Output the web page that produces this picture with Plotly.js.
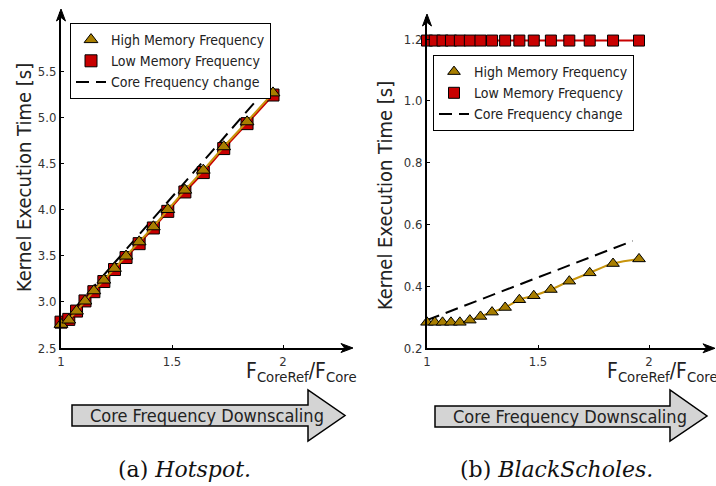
<!DOCTYPE html>
<html><head><meta charset="utf-8">
<script src="https://cdn.plot.ly/plotly-3.0.1.min.js"></script>
<style>html,body{margin:0;padding:0;background:#fff}</style>
</head><body><div id="chart" style="width:716px;height:486px"></div>
<script>
// ---- data ----
const freqRatio = [1.000, 1.035, 1.070, 1.108, 1.148, 1.193, 1.241, 1.293, 1.352, 1.416, 1.481, 1.558, 1.641, 1.733, 1.838, 1.955];
const hotspotHigh = [2.756, 2.803, 2.900, 3.009, 3.120, 3.236, 3.363, 3.496, 3.650, 3.813, 4.000, 4.210, 4.426, 4.680, 4.950, 5.263];
const hotspotLow  = [2.780, 2.810, 2.900, 3.010, 3.110, 3.220, 3.350, 3.480, 3.630, 3.800, 3.980, 4.190, 4.400, 4.660, 4.930, 5.240];
const hotspotCoreX = [1.000, 1.927];
const hotspotCoreY = [2.760, 5.310];
const bsHigh = [0.284, 0.284, 0.284, 0.284, 0.284, 0.291, 0.303, 0.317, 0.332, 0.357, 0.370, 0.390, 0.417, 0.444, 0.474, 0.489];
const bsLow  = [1.195, 1.195, 1.195, 1.195, 1.195, 1.195, 1.195, 1.195, 1.195, 1.195, 1.195, 1.195, 1.195, 1.195, 1.195, 1.195];
const bsCoreX = [1.000, 1.926];
const bsCoreY = [0.291, 0.547];
const xTickVals = [1, 1.5, 2];
const xTickText = ['1', '1.5', '2'];
const hsYTickVals = [2.5, 3.0, 3.5, 4.0, 4.5, 5.0, 5.5];
const hsYTickText = ['2.5', '3.0', '3.5', '4.0', '4.5', '5.0', '5.5'];
const bsYTickVals = [0.2, 0.4, 0.6, 0.8, 1.0, 1.2];
const bsYTickText = ['0.2', '0.4', '0.6', '0.8', '1.0', '1.2'];
const seriesNames = ['High Memory Frequency', 'Low Memory Frequency', 'Core Frequency change'];
const arrowLabel = 'Core Frequency Downscaling';
const yTitle = 'Kernel Execution Time [s]';
const xTitle = 'F<sub>CoreRef</sub>/F<sub>Core</sub>';
const captions = ['(a) <i>Hotspot.</i>', '(b) <i>BlackScholes.</i>'];

// ---- styling helpers ----
const W = 716, H = 486;
const px = x => x / W;
const py = y => 1 - y / H;
const path = pts => pts.map((p, i) => (i ? 'L' : 'M') + px(p[0]).toFixed(5) + ',' + py(p[1]).toFixed(5)).join(' ') + ' Z';
const FONT = '"DejaVu Sans Condensed", "DejaVu Sans", sans-serif';
const SERIF = '"DejaVu Serif", serif';
const GOLD_LINE = '#c8940c', GOLD_FILL = '#a87e00', RED = '#c80000';

function seriesTraces(x, hi, lo, cx, cy, xa, ya, leg, big, smooth) {
  const common = {xaxis: xa, yaxis: ya, legend: leg, cliponaxis: false};
  return [
    Object.assign({x: cx, y: cy, name: seriesNames[2], legendrank: 3,
      mode: 'lines', line: {color: '#000', width: 2, dash: '13px,7px'}}, common),
    Object.assign({x: x, y: lo, showlegend: false, hoverinfo: 'skip',
      mode: 'lines', line: {color: RED, width: 2}}, common),
    Object.assign({x: x, y: lo, name: seriesNames[1], legendrank: 2, mode: 'markers',
      marker: {symbol: 'square', size: big ? 12 : 11, color: RED, line: {color: '#000', width: 1}}}, common),
    Object.assign({x: x, y: hi, showlegend: false, hoverinfo: 'skip',
      mode: 'lines', line: {color: GOLD_LINE, width: 2, shape: smooth ? 'spline' : 'linear'}}, common),
    Object.assign({x: x, y: hi, name: seriesNames[0], legendrank: 1, mode: 'markers',
      marker: {symbol: 'triangle-up', size: big ? 12 : 11, color: GOLD_FILL, line: {color: '#000', width: 1}}}, common)
  ];
}

const data = [].concat(
  seriesTraces(freqRatio, hotspotHigh, hotspotLow, hotspotCoreX, hotspotCoreY, 'x', 'y', 'legend', true, false),
  seriesTraces(freqRatio, bsHigh, bsLow, bsCoreX, bsCoreY, 'x2', 'y2', 'legend2', false, true)
);

const axisBase = {showline: true, linecolor: '#000', linewidth: 2, showgrid: false, zeroline: false,
  ticks: 'inside', ticklen: 3, tickwidth: 1, tickcolor: '#000',
  tickfont: {family: FONT, size: 13, color: '#333'}, fixedrange: true};

const legendBase = {xanchor: 'left', yanchor: 'top', bgcolor: '#fff', bordercolor: '#000', borderwidth: 1,
  font: {family: FONT, size: 14, color: '#222'}, traceorder: 'normal', itemwidth: 30, tracegroupgap: 0};

const shapes = [
  // axis arrowheads
  {type: 'path', xref: 'paper', yref: 'paper', path: path([[61, 9], [56.5, 21], [61, 17.5], [65.5, 21]]), fillcolor: '#000', line: {color: '#000', width: 1}},
  {type: 'path', xref: 'paper', yref: 'paper', path: path([[353, 348], [341, 343.5], [344.5, 348], [341, 352.5]]), fillcolor: '#000', line: {color: '#000', width: 1}},
  {type: 'path', xref: 'paper', yref: 'paper', path: path([[427, 14], [422.5, 26], [427, 22.5], [431.5, 26]]), fillcolor: '#000', line: {color: '#000', width: 1}},
  {type: 'path', xref: 'paper', yref: 'paper', path: path([[715, 348.3], [703, 343.8], [706.5, 348.3], [703, 352.8]]), fillcolor: '#000', line: {color: '#000', width: 1}},
  // block arrows
  {type: 'path', xref: 'paper', yref: 'paper', path: path([[72, 405], [308, 405], [308, 390], [345, 415.5], [308, 441], [308, 426], [72, 426]]), fillcolor: '#d4d4d4', line: {color: '#000', width: 1.5}},
  {type: 'path', xref: 'paper', yref: 'paper', path: path([[435, 406], [670, 406], [670, 390], [707, 416], [670, 441], [670, 427], [435, 427]]), fillcolor: '#d4d4d4', line: {color: '#000', width: 1.5}}
];

const ann = (x, y, text, opts) => Object.assign({xref: 'paper', yref: 'paper', x: px(x), y: py(y), text: text,
  showarrow: false, xanchor: 'center', yanchor: 'middle'}, opts);
const annotations = [
  ann(24, 178, yTitle, {textangle: -90, font: {family: FONT, size: 20, color: '#222'}}),
  ann(385, 196, yTitle, {textangle: -90, font: {family: FONT, size: 20, color: '#222'}}),
  ann(244, 372, xTitle, {xanchor: 'left', font: {family: FONT, size: 21, color: '#222'}}),
  ann(605, 372, xTitle, {xanchor: 'left', font: {family: FONT, size: 21, color: '#222'}}),
  ann(207, 415, arrowLabel, {font: {family: FONT, size: 18, color: '#222'}}),
  ann(570, 416, arrowLabel, {font: {family: FONT, size: 18, color: '#222'}}),
  ann(184, 469, captions[0], {font: {family: SERIF, size: 22, color: '#111'}}),
  ann(556, 469, captions[1], {font: {family: SERIF, size: 22, color: '#111'}})
];

const layout = {
  width: W, height: H, margin: {l: 0, r: 0, t: 0, b: 0}, paper_bgcolor: '#fff', plot_bgcolor: 'rgba(0,0,0,0)',
  xaxis: Object.assign({}, axisBase, {domain: [px(61), px(349)], range: [1, 1 + (349 - 61) / 222], anchor: 'y',
    tickvals: xTickVals, ticktext: xTickText}),
  yaxis: Object.assign({}, axisBase, {domain: [py(348), py(12)], range: [2.5, 2.5 + (348 - 12) / 92.33], anchor: 'x',
    tickvals: hsYTickVals, ticktext: hsYTickText}),
  xaxis2: Object.assign({}, axisBase, {domain: [px(427), px(711)], range: [1, 1 + (711 - 427) / 222], anchor: 'y2',
    tickvals: xTickVals, ticktext: xTickText}),
  yaxis2: Object.assign({}, axisBase, {domain: [py(348.3), py(17)], range: [0.2, 0.2 + (348.3 - 17) / 309.3], anchor: 'x2',
    tickvals: bsYTickVals, ticktext: bsYTickText}),
  legend: Object.assign({}, legendBase, {x: px(70), y: py(23)}),
  legend2: Object.assign({}, legendBase, {x: px(433), y: py(55)}),
  shapes: shapes, annotations: annotations, showlegend: true
};

Plotly.newPlot('chart', data, layout, {staticPlot: true, displayModeBar: false});
</script></body></html>
